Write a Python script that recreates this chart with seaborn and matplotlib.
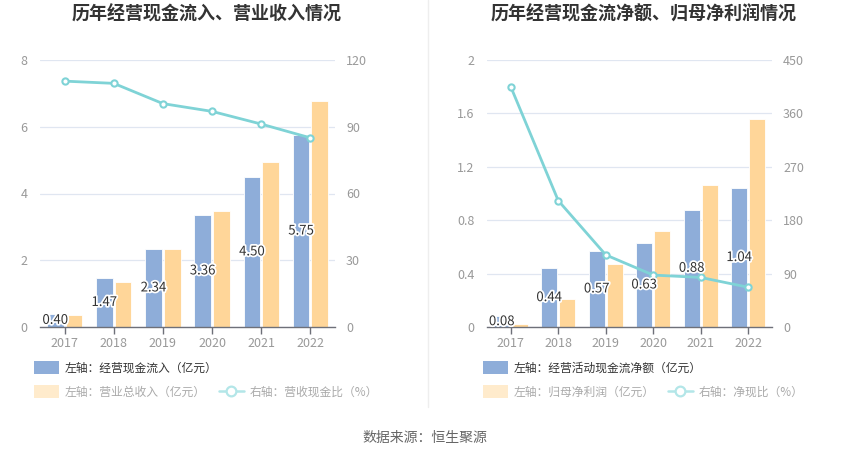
import matplotlib
matplotlib.use('Agg')
import matplotlib.pyplot as plt
import matplotlib.patheffects as pe
from matplotlib.patches import Patch
from matplotlib.lines import Line2D
import seaborn as sns
import pandas as pd

# ---------------- data ----------------
years = ['2017', '2018', '2019', '2020', '2021', '2022']
cash_inflow = [0.40, 1.47, 2.34, 3.36, 4.50, 5.75]
revenue = [0.36, 1.36, 2.33, 3.47, 4.94, 6.77]
rev_cash_ratio = [110.5, 109.5, 100.4, 96.9, 91.2, 85.0]

net_cash_flow = [0.08, 0.44, 0.57, 0.63, 0.88, 1.04]
net_profit = [0.02, 0.21, 0.47, 0.72, 1.06, 1.56]
net_cash_ratio = [405.0, 213.0, 121.5, 87.5, 83.5, 67.0]

left_title = '历年经营现金流入、营业收入情况'
right_title = '历年经营现金流净额、归母净利润情况'
left_legend = ['左轴：经营现金流入（亿元）', '左轴：营业总收入（亿元）', '右轴：营收现金比（%）']
right_legend = ['左轴：经营活动现金流净额（亿元）', '左轴：归母净利润（亿元）', '右轴：净现比（%）']
left_yticks = [0, 2, 4, 6, 8]
left_yticklabels = ['0', '2', '4', '6', '8']
left_y2ticks = [0, 30, 60, 90, 120]
right_yticks = [0, 0.4, 0.8, 1.2, 1.6, 2.0]
right_yticklabels = ['0', '0.4', '0.8', '1.2', '1.6', '2']
right_y2ticks = [0, 90, 180, 270, 360, 450]
source = '数据来源：恒生聚源'

# ---------------- style ----------------
sns.set_theme(style='white')
plt.rcParams['font.family'] = ['Noto Sans CJK SC', 'DejaVu Sans']
plt.rcParams['axes.unicode_minus'] = False

BLUE = '#8eadd9'
ORANGE = '#ffd699'
TEAL = '#7fd3d6'
PALE_ORANGE = '#ffebcc'
PALE_TEAL = '#b3e6e8'
GRID = '#e0e6f1'
AXIS = '#6e7079'
TICK = '#999999'

W, H = 850, 459
fig = plt.figure(figsize=(W / 100, H / 100), dpi=100)


def fx(px):
    return px / W


def fy(py):
    return 1 - py / H


def panel(rect, b1, b2, ratio, yticks, yticklabels, y2ticks):
    ax = fig.add_axes(rect)
    df = pd.DataFrame({
        'year': years * 2,
        'value': b1 + b2,
        'series': ['a'] * len(years) + ['b'] * len(years),
    })
    sns.barplot(data=df, x='year', y='value', hue='series', palette=[BLUE, ORANGE],
                saturation=1, width=0.76, gap=0.1, ax=ax, legend=False,
                edgecolor='white', linewidth=0.6, errorbar=None)
    ax.set_xlim(-0.5, len(years) - 0.5)
    ax.set_ylim(yticks[0], yticks[-1])
    ax.set_yticks(yticks)
    ax.set_yticklabels(yticklabels)
    ax.set_xlabel('')
    ax.set_ylabel('')
    ax.yaxis.grid(True, color=GRID, linewidth=0.9)
    ax.set_axisbelow(True)
    for s in ['top', 'left', 'right']:
        ax.spines[s].set_visible(False)
    ax.spines['bottom'].set_color(AXIS)
    ax.spines['bottom'].set_linewidth(1.0)
    ax.tick_params(axis='x', length=5, width=1, color=AXIS, labelcolor=TICK,
                   labelsize=9, pad=2, bottom=True)
    ax.tick_params(axis='y', length=0, labelcolor=TICK, labelsize=9, pad=9)

    ax2 = ax.twinx()
    sns.lineplot(x=years, y=ratio, ax=ax2, color=TEAL, linewidth=2, sort=False,
                 marker='o', markersize=4.5, markerfacecolor='white',
                 markeredgecolor=TEAL, markeredgewidth=1.5)
    ax2.set_ylim(y2ticks[0], y2ticks[-1])
    ax2.set_yticks(y2ticks)
    ax2.set_yticklabels([str(t) for t in y2ticks])
    ax2.set_xlim(-0.5, len(years) - 0.5)
    ax2.set_ylabel('')
    for s in ax2.spines.values():
        s.set_visible(False)
    ax2.tick_params(axis='y', length=0, labelcolor=TICK, labelsize=9, pad=8)
    ax2.grid(False)

    # value labels on first series bars
    for p, v in zip(ax.patches[:len(years)], b1):
        ax2.text(p.get_x() + p.get_width() / 2, p.get_height() / 2, f'{v:.2f}',
                 transform=ax.transData, ha='center', va='center', fontsize=9.5,
                 color='#333333', zorder=10,
                 path_effects=[pe.withStroke(linewidth=2.5, foreground='white')])
    return ax, ax2


panel([fx(40), fy(327), fx(295), (327 - 60) / H], cash_inflow, revenue,
      rev_cash_ratio, left_yticks, left_yticklabels, left_y2ticks)
panel([fx(487), fy(327), fx(285), (327 - 60) / H], net_cash_flow, net_profit,
      net_cash_ratio, right_yticks, right_yticklabels, right_y2ticks)

# titles
fig.text(fx(207), fy(14), left_title, ha='center', va='center', fontsize=13,
         fontweight='bold', color='#333333')
fig.text(fx(643.5), fy(14), right_title, ha='center', va='center', fontsize=13,
         fontweight='bold', color='#333333')


def add_leg(handle, label, x, y, color):
    fig.legend(handles=[handle], labels=[label], loc='center left',
               bbox_to_anchor=(fx(x), fy(y)), frameon=False, fontsize=8.5,
               handlelength=2.1, handleheight=1.2, handletextpad=0.5,
               borderpad=0, borderaxespad=0, labelcolor=color)


def line_handle():
    return Line2D([], [], color=PALE_TEAL, linewidth=1.8, marker='o', markersize=7,
                  markerfacecolor='white', markeredgecolor=PALE_TEAL,
                  markeredgewidth=1.6)


add_leg(Patch(facecolor=BLUE, edgecolor='none'), left_legend[0], 34, 368, '#333333')
add_leg(Patch(facecolor=PALE_ORANGE, edgecolor='none'), left_legend[1], 34, 392, '#aaaaaa')
add_leg(line_handle(), left_legend[2], 219, 392, '#aaaaaa')

add_leg(Patch(facecolor=BLUE, edgecolor='none'), right_legend[0], 483, 368, '#333333')
add_leg(Patch(facecolor=PALE_ORANGE, edgecolor='none'), right_legend[1], 483, 392, '#aaaaaa')
add_leg(line_handle(), right_legend[2], 668, 392, '#aaaaaa')

# separator
fig.add_artist(Line2D([fx(427.5), fx(427.5)], [1, fy(407)], transform=fig.transFigure,
                      color='#eeeeee', linewidth=1))

fig.text(0.5, fy(438), source, ha='center', va='center', fontsize=10, color='#666666')

fig.savefig('out.png', dpi=100)
